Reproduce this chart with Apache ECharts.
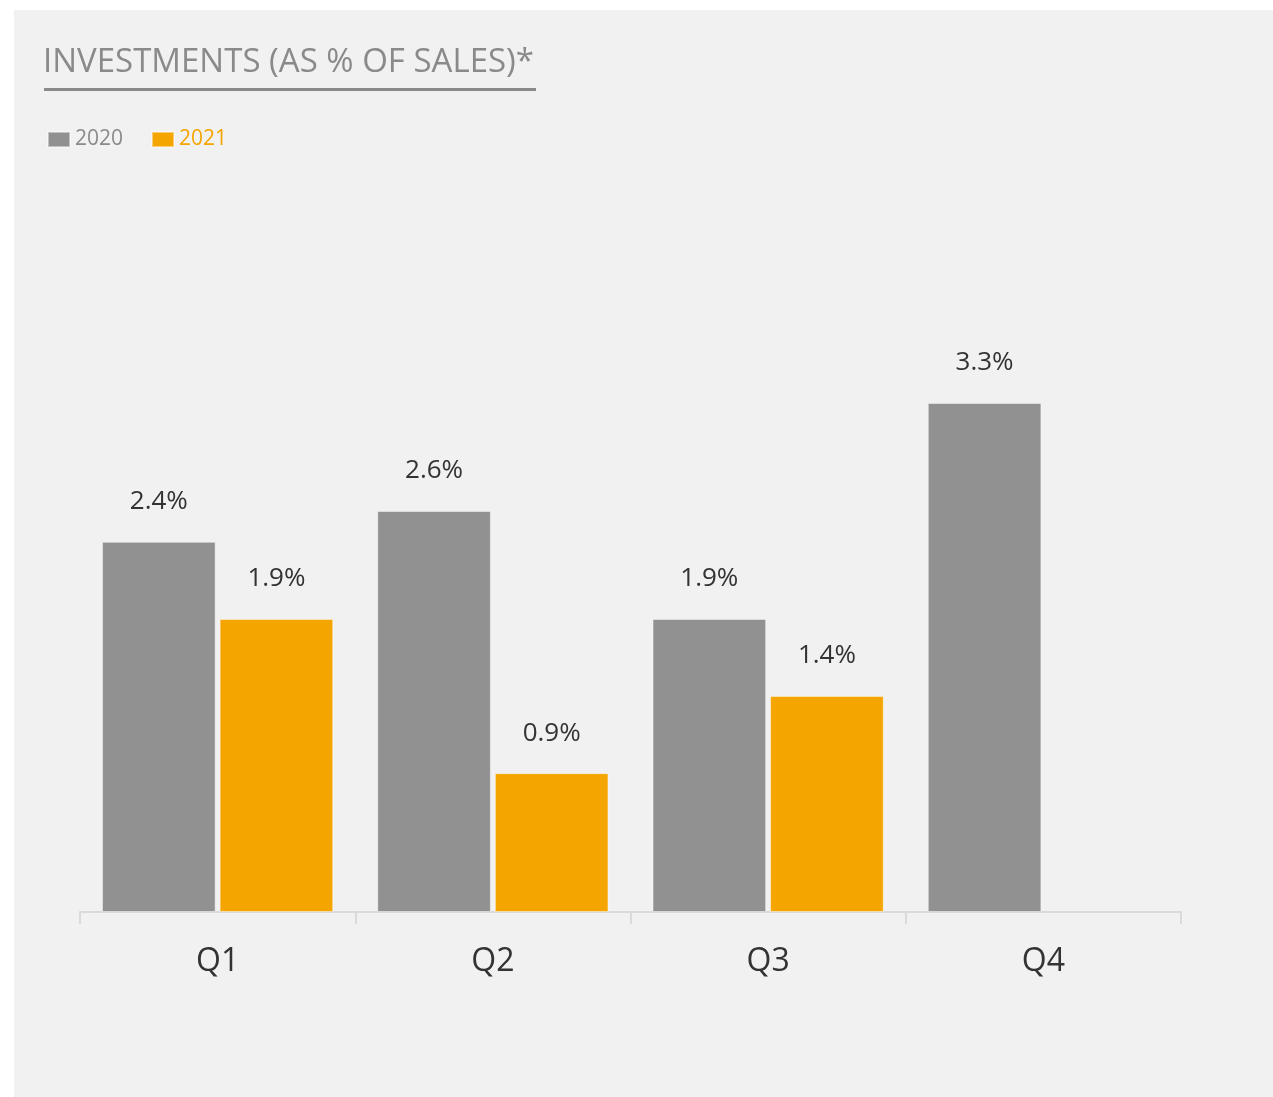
<!DOCTYPE html>
<html>
<head>
<meta charset="utf-8">
<script src="https://cdn.jsdelivr.net/npm/echarts@6/dist/echarts.min.js"></script>
<style>
html,body{margin:0;padding:0;background:#ffffff;}
#chart{width:1273px;height:1097px;}
</style>
</head>
<body>
<div id="chart"></div>
<script>
const categories = ['Q1', 'Q2', 'Q3', 'Q4'];
const seriesNames = ['2020', '2021'];
const values2020 = [2.4, 2.6, 1.9, 3.3];
const values2021 = [1.9, 0.9, 1.4, null];
const titleText = 'INVESTMENTS (AS % OF SALES)*';

const GRAY = '#919191';
const ORANGE = '#f5a500';
const TEXT_GRAY = '#8a8a8a';
const FONT = '"Open Sans", "Noto Sans", sans-serif';

const chart = echarts.init(document.getElementById('chart'));

const labelOpt = {
  show: true,
  position: 'top',
  distance: 27,
  color: '#333333',
  fontSize: 26,
  fontFamily: FONT,
  formatter: p => p.value.toFixed(1) + '%'
};

chart.setOption({
  backgroundColor: '#ffffff',
  animation: false,
  graphic: [
    { type: 'rect', z: -10, shape: { x: 14, y: 10, width: 1259, height: 1087 }, style: { fill: '#f0f1f0' } },
    { type: 'rect', z: 10, shape: { x: 44, y: 88, width: 492, height: 3 }, style: { fill: '#8a8a8a' } }
  ],
  title: {
    text: titleText,
    left: 38,
    top: 41,
    textStyle: { fontFamily: FONT, fontSize: 33, fontWeight: 'normal', color: TEXT_GRAY }
  },
  legend: {
    left: 42,
    top: 124,
    icon: 'rect',
    itemWidth: 22,
    itemHeight: 15,
    itemGap: 28,
    selectedMode: false,
    textStyle: { fontFamily: FONT, fontSize: 21 },
    data: [
      { name: seriesNames[0], textStyle: { color: TEXT_GRAY } },
      { name: seriesNames[1], textStyle: { color: ORANGE } }
    ]
  },
  grid: { left: 80, right: 92, top: 295, bottom: 185, containLabel: false },
  xAxis: {
    type: 'category',
    data: categories,
    boundaryGap: true,
    axisLine: { show: true, lineStyle: { color: '#dadada', width: 2 } },
    axisTick: { show: true, length: 12, lineStyle: { color: '#dadada', width: 2 } },
    axisLabel: { margin: 34, color: '#333333', fontSize: 32, fontFamily: FONT }
  },
  yAxis: {
    type: 'value',
    min: 0,
    max: 4,
    show: false,
    splitLine: { show: false }
  },
  series: [
    {
      name: seriesNames[0],
      type: 'bar',
      data: values2020,
      barCategoryGap: '16%',
      barGap: '3.5%',
      itemStyle: { color: GRAY, borderColor: 'rgba(255,255,255,0.45)', borderWidth: 1 },
      label: labelOpt
    },
    {
      name: seriesNames[1],
      type: 'bar',
      data: values2021,
      itemStyle: { color: ORANGE, borderColor: 'rgba(255,255,255,0.45)', borderWidth: 1 },
      label: labelOpt
    }
  ]
});
</script>
</body>
</html>
